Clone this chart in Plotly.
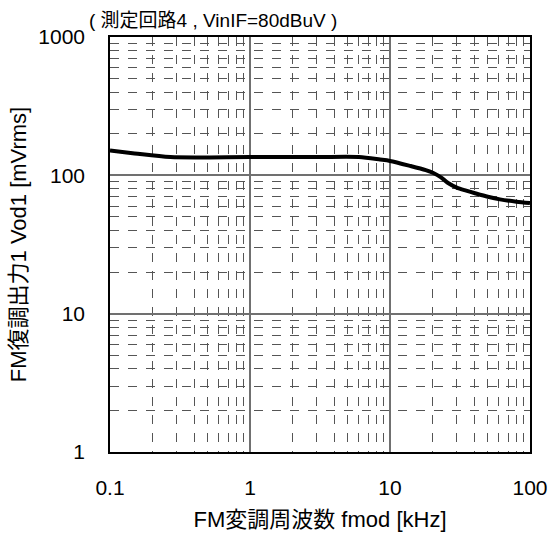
import plotly.graph_objects as go

freq_khz = [0.1, 0.15, 0.27, 1, 3, 6, 8.5, 10, 13.9, 18, 20.4, 23, 26, 30, 35, 40, 50, 61, 80, 100]
vod_mv = [151, 144, 135.5, 135.5, 135.5, 135.5, 130, 127, 117, 109, 104, 97, 88, 81.5, 77.5, 74.5, 70, 67, 64.5, 63]

x_ticks = [0.1, 1, 10, 100]
x_labels = ["0.1", "1", "10", "100"]
y_ticks = [1, 10, 100, 1000]
y_labels = ["1", "10", "100", "1000"]

font_fam = "Liberation Sans, Arial, Noto Sans CJK JP"

fig = go.Figure()
fig.add_trace(go.Scatter(x=freq_khz, y=vod_mv, mode="lines",
                         line=dict(color="black", width=4, shape="spline", smoothing=0.8),
                         showlegend=False))

axis_common = dict(
    type="log", showline=True, linecolor="black", linewidth=1.5, mirror=True,
    showgrid=True, gridcolor="#707070", gridwidth=1.5,
    ticks="", tickfont=dict(size=21, color="black", family=font_fam),
    zeroline=False, automargin=False,
    minor=dict(showgrid=True, gridcolor="#555555", gridwidth=1, griddash="dash",
               dtick="D1", ticks=""),
)

fig.update_xaxes(**axis_common, range=[-1, 2], tickvals=x_ticks, ticktext=x_labels,
                 ticklabelstandoff=16,
                 title=dict(text="FM変調周波数 fmod [kHz]", font=dict(size=22, color="black", family=font_fam),
                            standoff=14))
fig.update_yaxes(**axis_common, range=[0, 3], tickvals=y_ticks, ticktext=y_labels,
                 ticklabelstandoff=19,
                 title=dict(text="FM復調出力1 Vod1 [mVrms]", font=dict(size=22, color="black", family=font_fam),
                            standoff=6))

fig.add_annotation(text="( 測定回路4 , VinIF=80dBuV )", xref="paper", yref="paper",
                   x=-0.055, y=1.0, xanchor="left", yanchor="bottom", yshift=4, showarrow=False,
                   font=dict(size=19, color="black", family=font_fam))

fig.update_layout(width=549, height=533, margin=dict(l=110, r=19, t=37, b=81),
                  plot_bgcolor="white", paper_bgcolor="white",
                  font=dict(family=font_fam, color="black"))

fig.write_html("out.html")
